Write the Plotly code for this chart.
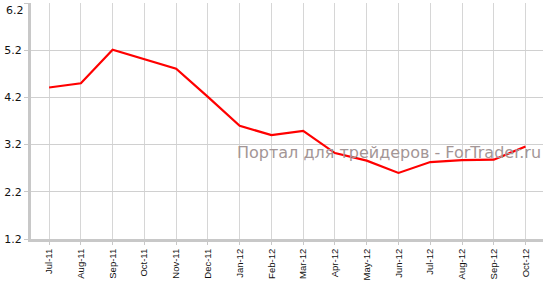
import plotly.graph_objects as go

months = ["Jul-11", "Aug-11", "Sep-11", "Oct-11", "Nov-11", "Dec-11", "Jan-12", "Feb-12",
          "Mar-12", "Apr-12", "May-12", "Jun-12", "Jul-12", "Aug-12", "Sep-12", "Oct-12"]
values = [4.41, 4.50, 5.21, 5.01, 4.81, 4.21, 3.60, 3.40, 3.49, 3.02, 2.86, 2.60, 2.83, 2.87, 2.88, 3.16]
y_ticks = [1.2, 2.2, 3.2, 4.2, 5.2, 6.2]
watermark = "Портал для трейдеров - ForTrader.ru"

y_text = [f"{v:.1f}" for v in y_ticks]
top_label = y_text[-1]
y_text[-1] = ""

fig = go.Figure()
fig.add_trace(go.Scatter(x=months, y=values, mode="lines",
                         line=dict(color="#ff0000", width=2.2), hoverinfo="skip"))

fig.add_annotation(text=watermark, xref="paper", yref="y", x=1.0, y=3.04,
                   xanchor="right", yanchor="middle", showarrow=False,
                   font=dict(family="DejaVu Sans, Verdana", size=16, color="#a39696"))

# top tick label, nudged down as in the reference so it stays inside the page
fig.add_annotation(text=top_label, xref="paper", yref="y", x=0, y=y_ticks[-1],
                   xanchor="right", yanchor="top", xshift=-5, yshift=1, showarrow=False,
                   font=dict(family="DejaVu Sans, Verdana", size=11, color="#111111"))

fig.update_layout(
    width=549, height=281,
    margin=dict(l=31, r=6, t=3, b=42),
    paper_bgcolor="white", plot_bgcolor="white",
    showlegend=False,
    xaxis=dict(type="category", range=[-0.57, 15.55], tickangle=-90, automargin=False,
               showgrid=True, gridcolor="#d6d6d6", gridwidth=1,
               showline=True, linecolor="#c8c8c8", linewidth=3,
               ticks="outside", ticklen=3, tickcolor="#c8c8c8",
               tickfont=dict(family="Liberation Sans, Arial", size=9.5, color="#111111"),
               fixedrange=True),
    yaxis=dict(range=[1.2, 6.2], tickvals=y_ticks, ticktext=y_text,
               automargin=False,
               showgrid=True, gridcolor="#d0d0d0", gridwidth=1,
               showline=True, linecolor="#c8c8c8", linewidth=3,
               ticks="outside", ticklen=4, tickcolor="#c8c8c8",
               zeroline=False,
               tickfont=dict(family="DejaVu Sans, Verdana", size=11, color="#111111"),
               fixedrange=True),
)

fig.write_html("out.html")
